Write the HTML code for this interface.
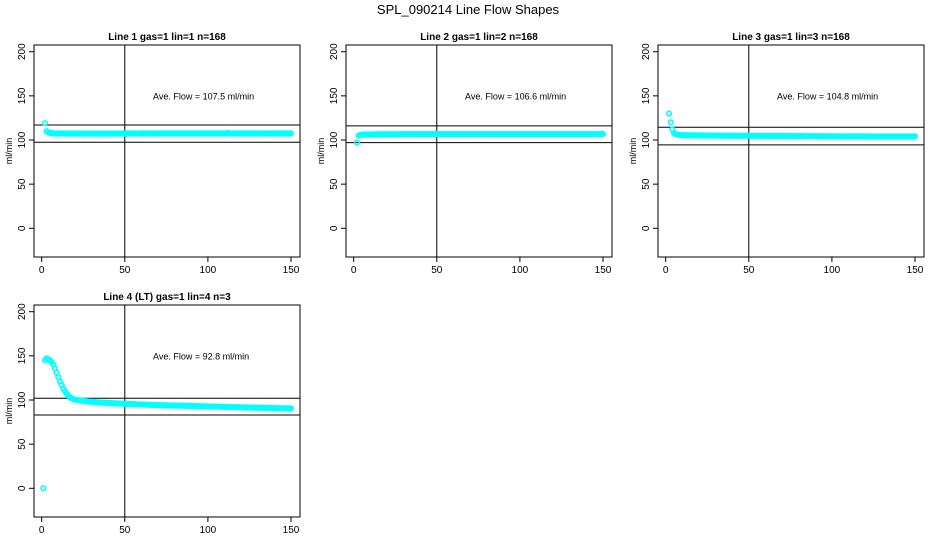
<!DOCTYPE html>
<html><head><meta charset="utf-8"><style>
html,body{margin:0;padding:0;background:#fff;}
svg{display:block;font-family:"Liberation Sans",Arial,sans-serif;}
</style></head><body>
<svg id="chart" width="936" height="540" viewBox="0 0 936 540">
<text x="468" y="14" text-anchor="middle" font-size="13">SPL_090214  Line Flow Shapes</text>
</svg>
<script>
const panelTitles = ["Line 1 gas=1 lin=1 n=168","Line 2 gas=1 lin=2 n=168","Line 3 gas=1 lin=3 n=168","Line 4 (LT) gas=1 lin=4 n=3"];
const aveFlows = ["107.5","106.6","104.8","92.8"];
const seriesStart = [2,2,2,1];
const upperLines = [117,116,114.5,102];
const lowerLines = [97.5,97,94.5,83];
const xTicks = [0,50,100,150];
const yTicks = [0,50,100,150,200];
const flow1 = [119,110,108.5,108,107.8,107.6,107.5,107.5,107.4,107.4,
107.5,107.3,107.4,107.5,107.2,107.4,107.3,107.5,107.4,107.3,
107.2,107.4,107.3,107.2,107.1,107.3,107.2,107.4,107.3,107.2,
107.1,107.3,107.2,107.3,107.1,107.2,107.4,107.3,107.2,107.3,
107.2,107.3,107.4,107.2,107.3,107.4,107.3,107.5,107.3,107.4,
107.4,107.5,107.3,107.4,107.5,107.4,107.3,107.5,107.4,107.5,
107.4,107.5,107.6,107.4,107.5,107.4,107.6,107.5,107.4,107.5,
107.6,107.5,107.4,107.6,107.5,107.4,107.5,107.6,107.5,107.4,
107.5,107.6,107.5,107.4,107.5,107.6,107.5,107.4,107.5,107.6,
107.5,107.4,107.6,107.5,107.4,107.5,107.6,107.5,107.4,107.5,
107.6,107.5,107.4,107.5,107.6,107.5,107.4,107.5,107.6,107.5,
108,107.5,107.4,107.5,107.6,107.5,107.4,107.5,107.6,107.5,
107.4,107.5,107.6,107.5,107.4,107.5,107.6,107.5,107.4,107.5,
107.6,107.5,107.4,107.5,107.6,107.5,107.4,107.5,107.6,107.5,
107.4,107.5,107.6,107.5,107.4,107.5,107.6,107.5,107.4];
const flow2 = [97,105,105.8,106,106.1,106.2,106.2,106.3,106.3,106.4,
106.4,106.4,106.5,106.4,106.5,106.5,106.4,106.5,106.6,106.5,
106.5,106.6,106.5,106.6,106.6,106.5,106.6,106.7,106.6,106.6,
106.7,106.6,106.6,106.7,106.6,106.7,106.6,106.7,106.7,106.6,
106.7,106.6,106.7,106.7,106.6,106.7,106.6,106.7,106.7,106.6,
106.7,106.6,106.7,106.7,106.6,106.7,106.6,106.7,106.7,106.6,
106.7,106.6,106.7,106.7,106.6,106.7,106.6,106.7,106.7,106.6,
106.7,106.6,106.7,106.7,106.6,106.7,106.6,106.7,106.7,106.6,
106.7,106.6,106.7,106.7,106.6,106.7,106.6,106.7,106.7,106.6,
106.7,106.6,106.7,106.7,106.6,106.7,106.6,106.7,106.7,106.6,
106.7,106.6,106.7,106.7,106.6,106.7,106.6,106.7,106.7,106.6,
106.7,106.6,106.7,106.7,106.6,106.7,106.6,106.7,106.7,106.6,
106.7,106.6,106.7,106.7,106.6,106.7,106.6,106.7,106.7,106.6,
106.7,106.6,106.7,106.7,106.6,106.7,106.6,106.7,106.7,106.6,
106.7,106.6,106.7,106.7,106.6,106.7,106.6,106.7,106.7];
const flow3 = [130,120,112,108,106.5,106,105.8,105.6,105.5,105.5,
105.4,105.4,105.3,105.3,105.3,105.2,105.2,105.2,105.1,105.1,
105.1,105.1,105,105,105,105,105,104.9,104.9,104.9,
104.9,104.9,104.9,104.8,104.8,104.8,104.8,104.8,104.8,104.8,
104.8,104.7,104.7,104.7,104.7,104.7,104.7,104.7,104.7,104.7,
104.6,104.6,104.6,104.6,104.6,104.6,104.6,104.6,104.6,104.6,
104.5,104.5,104.5,104.5,104.5,104.5,104.5,104.5,104.5,104.5,
104.5,104.4,104.4,104.4,104.4,104.4,104.4,104.4,104.4,104.4,
104.4,104.4,104.3,104.3,104.3,104.3,104.3,104.3,104.3,104.3,
104.3,104.3,104.3,104.3,104.2,104.2,104.2,104.2,104.2,104.2,
104.2,104.2,104.2,104.2,104.2,104.2,104.1,104.1,104.1,104.1,
104.1,104.1,104.1,104.1,104.1,104.1,104.1,104.1,104.1,104,
104,104,104,104,104,104,104,104,104,104,
104,104,104,104,104,104,104,104,104,104,
104,104,104,104,104,104,104,104,104];
const flow4 = [0,145,147,146,145,143,140,136,131,126,
121,117,113,110,107,105,103,102,101,100.5,
100,99.8,99.5,99.2,99,98.8,98.6,98.4,98.2,98,
97.8,97.7,97.5,97.4,97.2,97.1,97,96.9,96.8,96.7,
96.6,96.5,96.4,96.3,96.2,96.1,96,95.9,95.8,95.7,
95.6,95.5,95.4,95.4,95.3,95.2,95.1,95,95,94.9,
94.8,94.8,94.7,94.6,94.6,94.5,94.4,94.4,94.3,94.3,
94.2,94.1,94.1,94,94,93.9,93.9,93.8,93.8,93.7,
93.7,93.6,93.6,93.5,93.5,93.4,93.4,93.3,93.3,93.2,
93.2,93.1,93.1,93,93,92.9,92.9,92.8,92.8,92.7,
92.7,92.6,92.6,92.5,92.5,92.4,92.4,92.3,92.3,92.2,
92.2,92.1,92.1,92,92,91.9,91.9,91.8,91.8,91.7,
91.7,91.6,91.6,91.5,91.5,91.4,91.4,91.3,91.3,91.2,
91.2,91.1,91.1,91,91,91,90.9,90.9,90.8,90.8,
90.8,90.7,90.7,90.6,90.6,90.6,90.5,90.5,90.5,90.4];
const allFlows = [flow1, flow2, flow3, flow4];

const NS = "http://www.w3.org/2000/svg";
const svg = document.getElementById('chart');
function mk(tag, attrs, parent){
  const e = document.createElementNS(NS, tag);
  for (const k in attrs) e.setAttribute(k, attrs[k]);
  (parent||svg).appendChild(e);
  return e;
}
const origins = [[0,0],[312,0],[624,0],[0,260]];
origins.forEach((o, p) => {
  const ox = o[0], oy = o[1];
  const L = 34+ox, R = 300+ox, T = 45+oy, B = 257+oy;
  const xs = v => 41.7 + ox + v * (249.3/150);
  const ys = v => 228.3 + oy - v * (176.6/200);
  const g = mk('g', {});
  
  
  const t = mk('text', {x:(L+R)/2, y:T-5, 'text-anchor':'middle', 'font-size':10, 'font-weight':'bold'}, g);
  t.textContent = panelTitles[p];
  
  
  const box = mk('rect', {x:L, y:T, width:R-L, height:B-T, fill:'none', stroke:'#000', 'stroke-width':1}, g);
  
  
  xTicks.forEach(v => {
    mk('line', {x1:xs(v), x2:xs(v), y1:B, y2:B+5, stroke:'#000'}, g);
    const tx = mk('text', {x:xs(v), y:B+16, 'text-anchor':'middle', 'font-size':10}, g);
    tx.textContent = v;
    
    
  });
  yTicks.forEach(v => {
    mk('line', {x1:L-5, x2:L, y1:ys(v), y2:ys(v), stroke:'#000'}, g);
    const ty = mk('text', {x:0, y:0, 'text-anchor':'middle', 'font-size':10, transform:`translate(${L-9},${ys(v)}) rotate(-90)`}, g);
    ty.textContent = v;
    
    
  });
  const yl = mk('text', {x:0, y:0, 'text-anchor':'middle', 'font-size':9, transform:`translate(${L-22},${(T+B)/2}) rotate(-90)`}, g);
  yl.textContent = 'ml/min';
  
  
  mk('line', {x1:L, x2:R, y1:ys(upperLines[p]), y2:ys(upperLines[p]), stroke:'#000'}, g);
  mk('line', {x1:L, x2:R, y1:ys(lowerLines[p]), y2:ys(lowerLines[p]), stroke:'#000'}, g);
  mk('line', {x1:xs(50), x2:xs(50), y1:T, y2:B, stroke:'#000'}, g);
  const av = mk('text', {x:xs(67), y:ys(150)+3.5, 'font-size':9}, g);
  av.textContent = 'Ave. Flow =  ' + aveFlows[p] + '  ml/min';
  
  
  allFlows[p].forEach((v, i) => {
    const c = mk('circle', {cx:xs(seriesStart[p]+i), cy:ys(v), r:2.3, fill:'none', stroke:'#00ffff', 'stroke-width':1.6}, g);
    
    
  });
});
</script>
</body></html>
